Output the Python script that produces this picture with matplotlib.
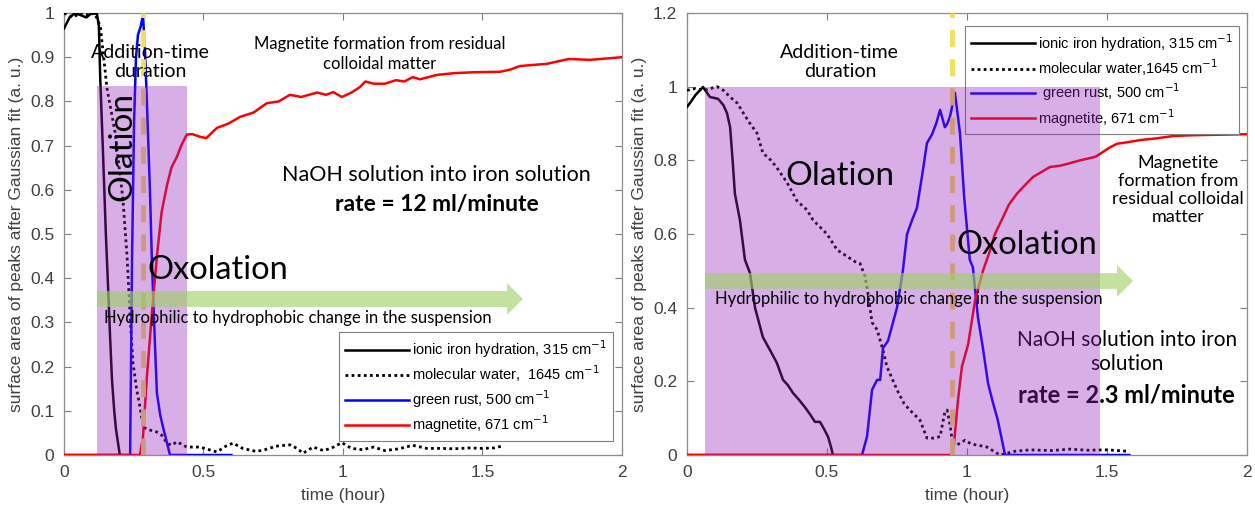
import numpy as np
import matplotlib
matplotlib.use('Agg')
import matplotlib.pyplot as plt
import matplotlib.patches as mpatches

plt.rcParams['font.family'] = ['Liberation Sans', 'DejaVu Sans']
ANN = ['Lato', 'DejaVu Sans']

# ---------- left panel: rate = 12 ml/minute ----------
L_ion_t = [0, 0.02, 0.04, 0.06, 0.08, 0.1, 0.118, 0.125, 0.13, 0.14, 0.15, 0.158, 0.165, 0.172, 0.18, 0.186, 0.2]
L_ion_y = [0.965, 0.99, 1.0, 0.995, 0.99, 1.0, 0.998, 0.97, 0.85, 0.68, 0.5, 0.38, 0.27, 0.17, 0.1, 0.06, 0.0]

L_wat_t = [0, 0.03, 0.06, 0.09, 0.11, 0.13, 0.154, 0.183, 0.211, 0.226, 0.235, 0.24, 0.247, 0.26, 0.272, 0.284,
           0.3, 0.333, 0.35, 0.369, 0.385, 0.405, 0.44, 0.487, 0.52, 0.548, 0.58, 0.606, 0.64, 0.69, 0.72, 0.76,
           0.81, 0.835, 0.857, 0.893, 0.93, 0.96, 0.996, 1.03, 1.07, 1.11, 1.15, 1.2, 1.25, 1.3, 1.35, 1.4, 1.45,
           1.5, 1.54, 1.57]
L_wat_y = [1.0, 0.99, 1.0, 0.995, 1.0, 0.97, 0.83, 0.73, 0.58, 0.45, 0.34, 0.28, 0.21, 0.15, 0.11, 0.063,
           0.058, 0.052, 0.045, 0.027, 0.022, 0.03, 0.018, 0.018, 0.012, 0.007, 0.02, 0.027, 0.015, 0.008, 0.012,
           0.02, 0.023, 0.015, 0.004, 0.018, 0.01, 0.016, 0.028, 0.015, 0.012, 0.018, 0.01, 0.014, 0.022, 0.015,
           0.015, 0.014, 0.016, 0.015, 0.016, 0.02]

L_gr_t = [0, 0.237, 0.244, 0.251, 0.258, 0.265, 0.275, 0.283, 0.29, 0.297, 0.308, 0.315, 0.326, 0.333, 0.345,
          0.355, 0.368, 0.38, 0.6]
L_gr_y = [0, 0.0, 0.45, 0.75, 0.9, 0.95, 0.97, 0.995, 0.92, 0.8, 0.6, 0.44, 0.25, 0.14, 0.09, 0.063, 0.03, 0.0, 0.0]

L_mag_t = [0, 0.272, 0.283, 0.297, 0.315, 0.333, 0.35, 0.369, 0.385, 0.405, 0.42, 0.44, 0.46, 0.487, 0.51,
           0.548, 0.59, 0.631, 0.68, 0.727, 0.77, 0.81, 0.85, 0.907, 0.94, 0.965, 0.996, 1.03, 1.06, 1.08, 1.11,
           1.15, 1.19, 1.22, 1.25, 1.276, 1.337, 1.4, 1.47, 1.563, 1.6, 1.634, 1.73, 1.81, 1.885, 2.0]
L_mag_y = [0, 0.0, 0.04, 0.176, 0.32, 0.45, 0.55, 0.61, 0.65, 0.675, 0.7, 0.725, 0.726, 0.72, 0.717, 0.74,
           0.75, 0.765, 0.775, 0.796, 0.8, 0.815, 0.81, 0.82, 0.815, 0.821, 0.81, 0.82, 0.832, 0.845, 0.84, 0.84,
           0.848, 0.845, 0.855, 0.85, 0.86, 0.864, 0.866, 0.867, 0.872, 0.88, 0.885, 0.896, 0.894, 0.9]

# ---------- right panel: rate = 2.3 ml/minute ----------
R_ion_t = [0, 0.015, 0.03, 0.057, 0.082, 0.111, 0.13, 0.143, 0.154, 0.163, 0.171, 0.189, 0.207, 0.225, 0.243,
           0.271, 0.3, 0.321, 0.343, 0.36, 0.379, 0.4, 0.421, 0.44, 0.457, 0.475, 0.49, 0.504, 0.515, 0.521]
R_ion_y = [0.945, 0.96, 0.977, 0.999, 0.972, 0.967, 0.95, 0.928, 0.89, 0.8, 0.71, 0.638, 0.53, 0.494, 0.4,
           0.32, 0.28, 0.25, 0.204, 0.19, 0.168, 0.15, 0.13, 0.11, 0.09, 0.09, 0.07, 0.049, 0.02, 0.0]

R_wat_t = [0, 0.03, 0.06, 0.107, 0.13, 0.154, 0.18, 0.2, 0.225, 0.25, 0.271, 0.3, 0.321, 0.357, 0.393, 0.429,
           0.45, 0.5, 0.536, 0.57, 0.6, 0.618, 0.636, 0.646, 0.661, 0.679, 0.7, 0.714, 0.75, 0.775, 0.796, 0.832,
           0.857, 0.88, 0.904, 0.914, 0.921, 0.929, 0.94, 0.95, 0.97, 0.993, 1.015, 1.036, 1.07, 1.118, 1.17,
           1.225, 1.3, 1.368, 1.43, 1.5, 1.58]
R_wat_y = [0.99, 0.995, 0.99, 1.0, 0.99, 0.972, 0.955, 0.93, 0.9, 0.874, 0.82, 0.8, 0.78, 0.74, 0.69, 0.665,
           0.638, 0.6, 0.557, 0.54, 0.525, 0.52, 0.485, 0.44, 0.36, 0.34, 0.285, 0.24, 0.177, 0.14, 0.122, 0.095,
           0.046, 0.046, 0.05, 0.09, 0.117, 0.122, 0.08, 0.022, 0.03, 0.04, 0.03, 0.027, 0.022, 0.0, 0.01,
           0.014, 0.012, 0.016, 0.013, 0.014, 0.01]

R_gr_t = [0, 0.625, 0.643, 0.661, 0.679, 0.69, 0.7, 0.718, 0.75, 0.771, 0.786, 0.805, 0.821, 0.84, 0.857,
          0.875, 0.89, 0.904, 0.921, 0.93, 0.939, 0.948, 0.957, 0.975, 0.99, 1.01, 1.021, 1.039, 1.057, 1.075,
          1.09, 1.11, 1.136, 1.58]
R_gr_y = [0, 0.0, 0.05, 0.177, 0.204, 0.204, 0.29, 0.31, 0.4, 0.5, 0.6, 0.64, 0.67, 0.76, 0.847, 0.87, 0.9,
          0.937, 0.89, 0.9, 0.918, 0.95, 0.983, 0.874, 0.7, 0.53, 0.51, 0.375, 0.29, 0.196, 0.15, 0.095, 0.0, 0.0]

R_mag_t = [0, 0.95, 0.968, 0.982, 1.004, 1.029, 1.057, 1.08, 1.1, 1.129, 1.15, 1.179, 1.21, 1.236, 1.27,
           1.296, 1.33, 1.357, 1.38, 1.404, 1.439, 1.46, 1.486, 1.51, 1.536, 1.58, 1.618, 1.68, 1.736, 1.8,
           1.857, 1.93, 2.0]
R_mag_y = [0, 0.0, 0.15, 0.24, 0.3, 0.42, 0.5, 0.55, 0.6, 0.646, 0.68, 0.71, 0.735, 0.755, 0.77, 0.782,
           0.785, 0.79, 0.795, 0.8, 0.806, 0.81, 0.823, 0.835, 0.845, 0.85, 0.855, 0.86, 0.866, 0.868, 0.869,
           0.87, 0.871]

labels_L = ['ionic iron hydration, 315 cm$^{-1}$', 'molecular water,  1645 cm$^{-1}$',
            'green rust, 500 cm$^{-1}$', 'magnetite, 671 cm$^{-1}$']
labels_R = ['ionic iron hydration, 315 cm$^{-1}$', 'molecular water,1645 cm$^{-1}$',
            ' green rust, 500 cm$^{-1}$', 'magnetite, 671 cm$^{-1}$']

PURPLE = (0.57, 0.12, 0.73, 0.36)
GREEN = (0.62, 0.82, 0.40, 0.62)
YELLOW = '#f2df5c'

fig = plt.figure(figsize=(12.55, 5.12), dpi=100)
axL = fig.add_axes([0.051, 0.1113, 0.4446, 0.8633])
axR = fig.add_axes([0.5474, 0.1113, 0.4462, 0.8633])


def draw_lines(ax, ion, wat, gr, mag):
    h1, = ax.plot(*ion, color='k', lw=1.8, zorder=3)
    h2, = ax.plot(*wat, color='k', lw=2.0, ls=(0, (1, 1.2)), zorder=3)
    h3, = ax.plot(*gr, color='#0000ff', lw=1.8, zorder=3)
    h4, = ax.plot(*mag, color='#ff0000', lw=1.8, zorder=3)
    return [h1, h2, h3, h4]


def style_axes(ax, ymax, ystep):
    ax.set_xlim(0, 2)
    ax.set_ylim(0, ymax)
    ax.set_xticks([0, 0.5, 1, 1.5, 2])
    ax.set_xticklabels(['0', '0.5', '1', '1.5', '2'])
    yt = np.round(np.arange(0, ymax + 1e-9, ystep), 2)
    ax.set_yticks(yt)
    ax.set_yticklabels(['%g' % v for v in yt])
    ax.tick_params(direction='in', top=True, right=True, length=5, width=0.8,
                   colors='#7f7f7f', labelcolor='#404040', labelsize=12.5, pad=7)
    for s in ax.spines.values():
        s.set_color('#8c8c8c')
        s.set_linewidth(0.9)
    ax.set_xlabel('time (hour)', fontsize=12.5, color='#404040', labelpad=6)
    ax.set_ylabel('surface area of peaks after Gaussian fit (a. u.)', fontsize=12.5,
                  color='#404040', labelpad=4)


def add_legend(ax, handles, labels, loc, anchor):
    leg = ax.legend(handles, labels, loc=loc, bbox_to_anchor=anchor, fontsize=10.5,
                    handlelength=4.4, handletextpad=0.2, borderpad=0.4, labelspacing=0.25,
                    borderaxespad=0, fancybox=False, edgecolor='#7f7f7f', framealpha=1)
    leg.set_zorder(5)
    leg.get_frame().set_linewidth(0.8)
    return leg


# left
hL = draw_lines(axL, (L_ion_t, L_ion_y), (L_wat_t, L_wat_y), (L_gr_t, L_gr_y), (L_mag_t, L_mag_y))
style_axes(axL, 1.0, 0.1)
axL.plot([0.283, 0.283], [0, 1.0], color=YELLOW, lw=3.5, ls=(0, (3.5, 2.5)), zorder=4)
axL.add_patch(mpatches.Rectangle((0.118, 0), 0.322, 0.835, facecolor=PURPLE, edgecolor='none', zorder=6))
axL.add_patch(mpatches.FancyArrow(0.118, 0.353, 1.527, 0, width=0.036, head_width=0.072, head_length=0.057,
                                  length_includes_head=True, facecolor=GREEN, edgecolor='none', zorder=6.5))
add_legend(axL, hL, labels_L, 'lower right', (0.984, 0.032))

axL.text(0.308, 0.89, 'Addition-time\nduration', family=ANN, fontsize=14, ha='center', va='center',
         linespacing=1.15, zorder=7)
axL.text(0.208, 0.697, 'Olation', family=ANN, fontsize=24, rotation=90, ha='center', va='center', zorder=7)
axL.text(1.133, 0.907, 'Magnetite formation from residual\ncolloidal matter', family=ANN, fontsize=12,
         ha='center', va='center', linespacing=1.35, zorder=7)
axL.text(1.333, 0.633, 'NaOH solution into iron solution', family=ANN, fontsize=15.5, ha='center',
         va='center', zorder=7)
axL.text(1.337, 0.566, 'rate = 12 ml/minute', family=ANN, fontsize=16.5, fontweight='bold', ha='center',
         va='center', zorder=7)
axL.text(0.552, 0.419, 'Oxolation', family=ANN, fontsize=23.5, ha='center', va='center', zorder=7)
axL.text(0.145, 0.309, 'Hydrophilic to hydrophobic change in the suspension', family=ANN, fontsize=12,
         ha='left', va='center', zorder=7)

# right
hR = draw_lines(axR, (R_ion_t, R_ion_y), (R_wat_t, R_wat_y), (R_gr_t, R_gr_y), (R_mag_t, R_mag_y))
style_axes(axR, 1.2, 0.2)
axR.plot([0.946, 0.946], [0, 1.2], color=YELLOW, lw=3.5, ls=(0, (3.5, 2.5)), zorder=4)
axR.text(1.571, 0.28, 'NaOH solution into iron\nsolution', family=ANN, fontsize=15, ha='center',
         va='center', linespacing=1.25, zorder=4)
axR.text(1.571, 0.163, 'rate = 2.3 ml/minute', family=ANN, fontsize=17, fontweight='bold', ha='center',
         va='center', zorder=4)
axR.add_patch(mpatches.Rectangle((0.064, 0), 1.411, 1.0, facecolor=PURPLE, edgecolor='none', zorder=6))
axR.add_patch(mpatches.FancyArrow(0.064, 0.4725, 1.529, 0, width=0.043, head_width=0.087, head_length=0.057,
                                  length_includes_head=True, facecolor=GREEN, edgecolor='none', zorder=6.5))
add_legend(axR, hR, labels_R, 'upper right', (0.985, 0.9706))

axR.text(0.546, 1.067, 'Addition-time\nduration', family=ANN, fontsize=14, ha='center', va='center',
         linespacing=1.15, zorder=7)
axR.text(0.546, 0.757, 'Olation', family=ANN, fontsize=24, ha='center', va='center', zorder=7)
axR.text(1.214, 0.57, 'Oxolation', family=ANN, fontsize=23.5, ha='center', va='center', zorder=7)
axR.text(1.754, 0.72, 'Magnetite\nformation from\nresidual colloidal\nmatter', family=ANN, fontsize=13,
         ha='center', va='center', linespacing=1.15, zorder=7)
axR.text(0.1, 0.424, 'Hydrophilic to hydrophobic change in the suspension', family=ANN, fontsize=12,
         ha='left', va='center', zorder=7)

fig.savefig('out.png', dpi=100)
